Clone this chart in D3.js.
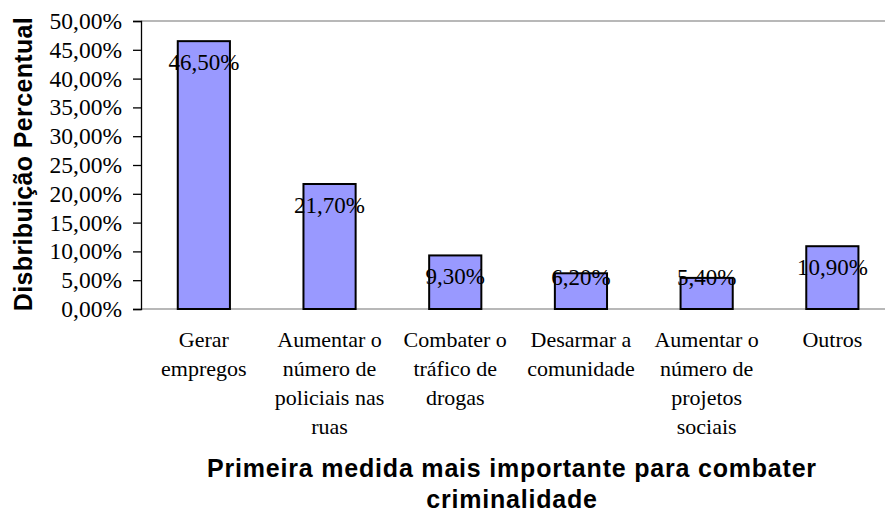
<!DOCTYPE html>
<html>
<head>
<meta charset="utf-8">
<script src="https://cdn.jsdelivr.net/npm/d3@7"></script>
<style>
  body { margin: 0; background: #fff; }
  svg { display: block; }
</style>
</head>
<body>
<svg id="chart" width="885" height="513"></svg>
<script>
const categories = [
  ["Gerar", "empregos"],
  ["Aumentar o", "número de", "policiais nas", "ruas"],
  ["Combater o", "tráfico de", "drogas"],
  ["Desarmar a", "comunidade"],
  ["Aumentar o", "número de", "projetos", "sociais"],
  ["Outros"]
];
const values = [46.5, 21.7, 9.3, 6.2, 5.4, 10.9];
const yTicks = [0, 5, 10, 15, 20, 25, 30, 35, 40, 45, 50];

const svg = d3.select("#chart");
const plotLeft = 141, plotTop = 21, plotBottom = 309, plotRight = 885;
const serif = "'Liberation Serif', 'Times New Roman', serif";
const sans = "'Liberation Sans', Arial, sans-serif";

const fmt = v => d3.format(".2f")(v).replace(".", ",") + "%";

const x = d3.scaleBand()
  .domain(d3.range(values.length))
  .range([plotLeft, plotLeft + 6 * 125.7])
  .paddingInner(0.585)
  .paddingOuter(0.2925);

const y = d3.scaleLinear().domain([0, 50]).range([plotBottom, plotTop]);

// top and bottom frame lines
svg.append("line").attr("x1", plotLeft).attr("x2", plotRight).attr("y1", plotTop).attr("y2", plotTop)
  .attr("stroke", "#a0a0a0").attr("stroke-width", 1.5);
svg.append("line").attr("x1", plotLeft).attr("x2", plotRight).attr("y1", plotBottom).attr("y2", plotBottom)
  .attr("stroke", "#a0a0a0").attr("stroke-width", 1.5);

// y axis
const yAxis = svg.append("g")
  .attr("transform", `translate(${plotLeft},0)`)
  .call(d3.axisLeft(y).tickValues(yTicks).tickFormat(fmt).tickSize(8).tickPadding(11));
yAxis.select(".domain").attr("stroke", "#000").attr("stroke-width", 1.3);
yAxis.selectAll(".tick line").attr("stroke", "#000").attr("stroke-width", 1.3);
yAxis.selectAll("text")
  .style("font-family", serif)
  .style("font-size", "23.5px").attr("fill", "#000");

// bars
svg.selectAll(".bar")
  .data(values)
  .enter().append("rect")
  .attr("class", "bar")
  .attr("x", (d, i) => x(i))
  .attr("width", x.bandwidth())
  .attr("y", d => y(d))
  .attr("height", d => y(0) - y(d))
  .attr("fill", "#9999ff")
  .attr("stroke", "#000")
  .attr("stroke-width", 2);

// value labels (kept clear of the baseline on short bars)
svg.selectAll(".val")
  .data(values)
  .enter().append("text")
  .attr("class", "val")
  .attr("x", (d, i) => x(i) + x.bandwidth() / 2)
  .attr("y", d => Math.min(y(d) + 29, plotBottom - 24))
  .attr("text-anchor", "middle")
  .style("font-family", serif)
  .style("font-size", "23px")
  .text(fmt);

// category labels
const cat = svg.selectAll(".cat")
  .data(categories)
  .enter().append("text")
  .attr("class", "cat")
  .attr("text-anchor", "middle")
  .style("font-family", serif)
  .style("font-size", "22px");
cat.selectAll("tspan")
  .data((d, i) => d.map(t => ({ t, i })))
  .enter().append("tspan")
  .attr("x", d => x(d.i) + x.bandwidth() / 2)
  .attr("y", (d, j) => 347 + j * 29)
  .text(d => d.t);

// axis titles
const xTitle = svg.append("text")
  .attr("text-anchor", "middle")
  .style("font-family", sans)
  .style("font-weight", "bold")
  .style("font-size", "25px")
  .style("letter-spacing", "0.8px");
["Primeira medida mais importante para combater", "criminalidade"].forEach((t, j) => {
  xTitle.append("tspan").attr("x", 512).attr("y", 477 + j * 31).text(t);
});

svg.append("text")
  .attr("transform", "translate(32,164) rotate(-90)")
  .attr("text-anchor", "middle")
  .style("font-family", sans)
  .style("font-weight", "bold")
  .style("font-size", "25px")
  .style("letter-spacing", "0.35px")
  .text("Disbribuição Percentual");
</script>
</body>
</html>
